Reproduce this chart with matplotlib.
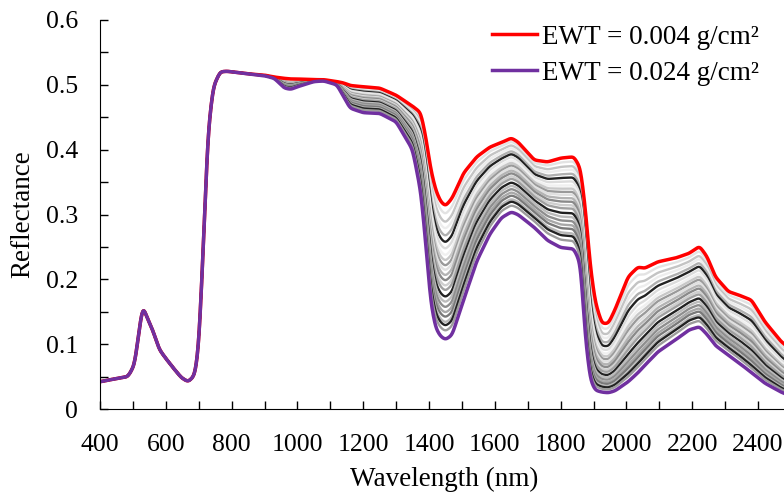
import numpy as np
import matplotlib
matplotlib.use("Agg")
import matplotlib.pyplot as plt
from matplotlib.ticker import MultipleLocator

plt.rcParams['font.family'] = ['Liberation Serif', 'DejaVu Serif']

# wavelength knots (nm)
wl = [400, 450, 485, 505, 520, 530, 542, 560, 580, 600, 628, 648, 668, 688, 700,
      714, 728, 744, 765, 785, 850, 900, 930, 960, 980, 1000, 1050, 1080, 1120,
      1140, 1160, 1200, 1250, 1300, 1350, 1375, 1390, 1405, 1420, 1435, 1450,
      1470, 1505, 1545, 1585, 1620, 1650, 1670, 1720, 1760, 1800, 1840, 1860,
      1875, 1890, 1905, 1925, 1945, 1965, 2005, 2035, 2055, 2095, 2150, 2190,
      2222, 2245, 2270, 2310, 2340, 2380, 2420, 2470, 2500]

# EWT = 0.004 g/cm2 (red, top)
r_low = [0.042, 0.047, 0.050, 0.068, 0.125, 0.160, 0.142, 0.122, 0.092, 0.078,
         0.060, 0.048, 0.042, 0.052, 0.095, 0.250, 0.425, 0.497, 0.520, 0.521,
         0.517, 0.515, 0.512, 0.510, 0.509, 0.509, 0.508, 0.508, 0.505, 0.503,
         0.499, 0.497, 0.495, 0.484, 0.467, 0.457, 0.420, 0.370, 0.338, 0.320,
         0.313, 0.325, 0.364, 0.389, 0.404, 0.411, 0.418, 0.412, 0.384, 0.381,
         0.387, 0.389, 0.372, 0.310, 0.220, 0.165, 0.132, 0.132, 0.153, 0.204,
         0.219, 0.217, 0.227, 0.233, 0.240, 0.251, 0.235, 0.204, 0.181, 0.176,
         0.168, 0.135, 0.104, 0.092]

# EWT = 0.024 g/cm2 (purple, bottom)
r_high = [0.042, 0.047, 0.050, 0.068, 0.125, 0.160, 0.142, 0.122, 0.092, 0.078,
          0.060, 0.048, 0.042, 0.052, 0.095, 0.250, 0.425, 0.497, 0.520, 0.521,
          0.517, 0.514, 0.510, 0.495, 0.493, 0.497, 0.505, 0.506, 0.500, 0.482,
          0.464, 0.457, 0.456, 0.443, 0.400, 0.335, 0.255, 0.165, 0.125, 0.112,
          0.107, 0.114, 0.168, 0.228, 0.270, 0.295, 0.304, 0.300, 0.280, 0.260,
          0.249, 0.247, 0.225, 0.110, 0.045, 0.029, 0.026, 0.025, 0.028, 0.042,
          0.056, 0.067, 0.088, 0.107, 0.122, 0.127, 0.115, 0.098, 0.083, 0.072,
          0.056, 0.040, 0.026, 0.020]

# reflectance of the intermediate spectra at the 1450 nm trough
dip_1450 = [0.300, 0.287, 0.277, 0.266, 0.256, 0.246, 0.236, 0.228, 0.220, 0.213,
            0.205, 0.197, 0.189, 0.182, 0.172, 0.164, 0.156, 0.148, 0.141, 0.133,
            0.128, 0.120]
shades = ['#e3e3e3', '#c4c4c4', '#ededed', '#b0b0b0', '#222222', '#dcdcdc',
          '#f0f0f0', '#c8c8c8', '#9a9a9a', '#e0e0e0', '#b4b4b4', '#8a8a8a',
          '#cfcfcf', '#a0a0a0', '#222222', '#bcbcbc', '#8e8e8e', '#a8a8a8',
          '#7a7a7a', '#b8b8b8', '#222222', '#9c9c9c']


def smooth(v, sigma=5):
    k = np.arange(-3 * sigma, 3 * sigma + 1)
    k = np.exp(-0.5 * (k / sigma) ** 2)
    k /= k.sum()
    pad = np.pad(v, len(k) // 2, mode='edge')
    return np.convolve(pad, k, mode='valid')


x = np.arange(400, 2501)
top = smooth(np.interp(x, wl, r_low))
bot = smooth(np.interp(x, wl, r_high))
i1450 = wl.index(1450)
span = np.log(r_low[i1450] / r_high[i1450])

fig = plt.figure(figsize=(7.84, 4.95), dpi=100)
ax = fig.add_axes([100/784, 86/495, 691/784, 389/495])

for val, c in zip(dip_1450, shades):
    t = np.log(r_low[i1450] / val) / span
    y = np.exp(np.log(top) + t * (np.log(bot) - np.log(top)))
    ax.plot(x, y, color=c, lw=1.7)

ax.plot(x, top, color='#ff0000', lw=2.5, label='EWT = 0.004 g/cm²')
ax.plot(x, bot, color='#7030a0', lw=2.5, label='EWT = 0.024 g/cm²')

ax.set_xlim(400, 2500)
ax.set_ylim(0, 0.6)
ax.xaxis.set_major_locator(MultipleLocator(200))
ax.xaxis.set_minor_locator(MultipleLocator(100))
ax.yaxis.set_minor_locator(MultipleLocator(0.05))
ax.set_yticks(np.arange(0, 0.61, 0.1))
ax.set_yticklabels(['0', '0.1', '0.2', '0.3', '0.4', '0.5', '0.6'])
ax.tick_params(which='both', direction='in', length=6, width=1, labelsize=18.5)
ax.tick_params(axis='x', pad=18)
ax.tick_params(axis='y', pad=16)
ax.spines['top'].set_visible(False)
ax.spines['right'].set_visible(False)

ax.set_xlabel('Wavelength (nm)', fontsize=19.5)
ax.set_ylabel('Reflectance', fontsize=19.5)
ax.xaxis.set_label_coords(0.498, -0.149)
ax.yaxis.set_label_coords(-0.094, 0.5)

ax.legend(loc='upper right', bbox_to_anchor=(770/784, 1 - 14/495),
          bbox_transform=fig.transFigure, frameon=False, fontsize=19.5,
          handlelength=1.65, handletextpad=0.2, borderaxespad=0,
          labelspacing=0.4)

fig.savefig('out.png', dpi=100)
